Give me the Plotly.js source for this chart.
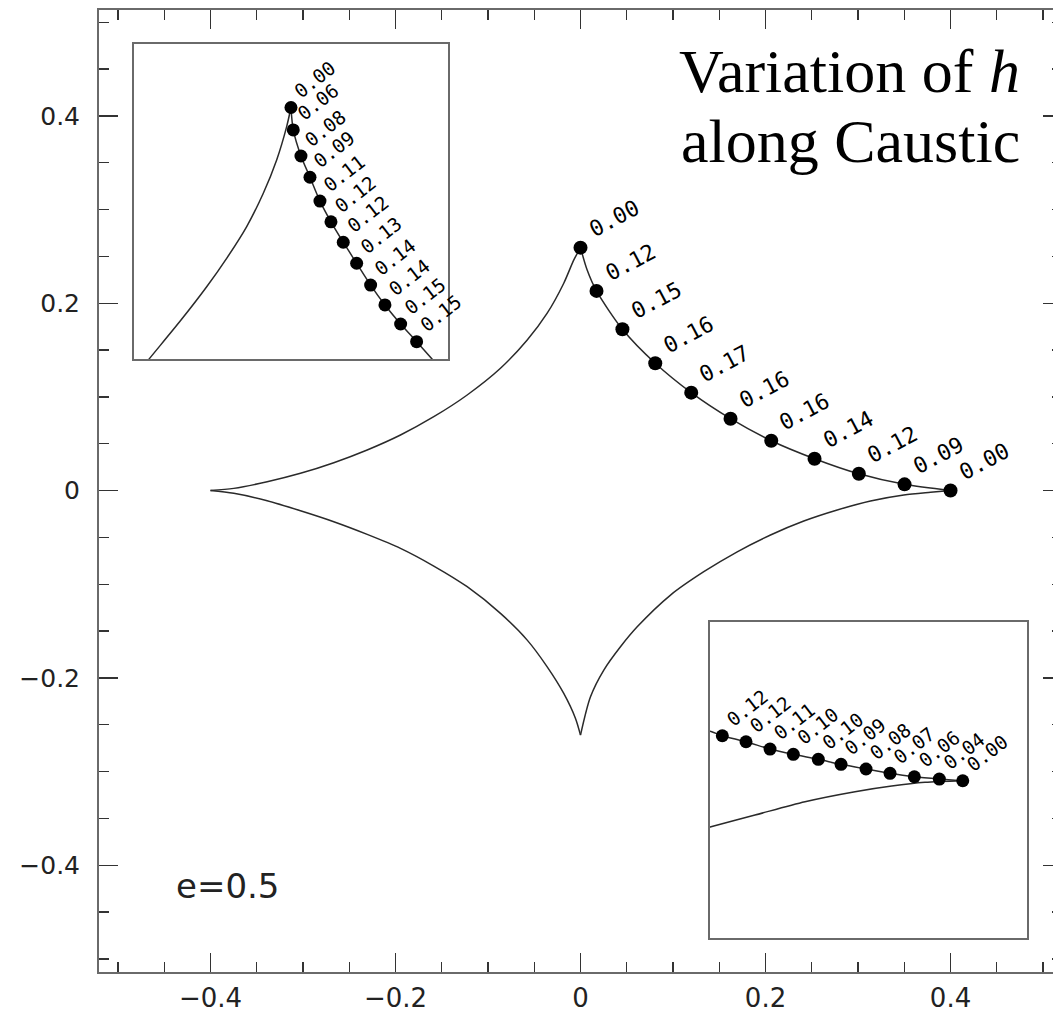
<!DOCTYPE html>
<html>
<head>
<meta charset="utf-8">
<script src="https://cdn.plot.ly/plotly-3.0.1.min.js"></script>
<style>html,body{margin:0;padding:0;overflow:hidden;background:#fff;}</style>
</head>
<body>
<div id="chart"></div>
<script>
// ---------- main caustic branches ----------
const ulX = [-0.400, -0.3748, -0.3387, -0.3027, -0.2667, -0.2306, -0.1946, -0.1586, -0.1225, -0.0865, -0.0576, -0.0360, -0.0181, -0.0072, 0.000];
const ulY = [0.000, 0.0023, 0.0094, 0.0184, 0.0297, 0.0433, 0.0593, 0.0788, 0.1020, 0.1305, 0.1607, 0.1893, 0.2213, 0.2462, 0.2593];
const llX = [-0.400, -0.3748, -0.3387, -0.3027, -0.2667, -0.2306, -0.1946, -0.1586, -0.1225, -0.0865, -0.0576, -0.0360, -0.0181, -0.0054, 0.000];
const llY = [0.000, -0.0030, -0.0109, -0.0216, -0.0333, -0.0468, -0.0617, -0.0806, -0.1027, -0.1312, -0.1597, -0.1882, -0.2166, -0.2433, -0.2611];
const lrX = [0.000, 0.0108, 0.0252, 0.0432, 0.0613, 0.0973, 0.1333, 0.1694, 0.2054, 0.2414, 0.2775, 0.3135, 0.3495, 0.3784, 0.400];
const lrY = [-0.2611, -0.2202, -0.1917, -0.1668, -0.1455, -0.1116, -0.0867, -0.0654, -0.0475, -0.0326, -0.0208, -0.0112, -0.0048, -0.0019, 0.000];
const urX = [0.000, 0.0070, 0.0173, 0.0453, 0.0808, 0.1197, 0.1622, 0.2062, 0.2530, 0.3009, 0.3503, 0.400];
const urY = [0.2593, 0.2360, 0.2131, 0.1722, 0.1359, 0.1045, 0.0767, 0.0532, 0.0340, 0.0179, 0.0066, 0.000];

// ---------- marked points on main caustic with h values ----------
const ptX = [0.000, 0.0173, 0.0453, 0.0808, 0.1197, 0.1622, 0.2062, 0.2530, 0.3009, 0.3503, 0.400];
const ptY = [0.2593, 0.2131, 0.1722, 0.1359, 0.1045, 0.0767, 0.0532, 0.0340, 0.0179, 0.0066, 0.000];
const ptH = [0.00, 0.12, 0.15, 0.16, 0.17, 0.16, 0.16, 0.14, 0.12, 0.09, 0.00];

// ---------- inset 1 (top cusp) ----------
const in1LeftX = [0.000, -0.00154, -0.00511, -0.00989, -0.01582, -0.02268, -0.03018, -0.03929, -0.05036, -0.05357];
const in1LeftY = [0.2583, 0.2515, 0.2396, 0.2277, 0.2158, 0.2049, 0.1942, 0.1824, 0.1689, 0.1649];
const in1RightX = [0.000, 0.00082, 0.00357, 0.00679, 0.01036, 0.01429, 0.01868, 0.02346, 0.02846, 0.03357, 0.03918, 0.04489, 0.0504, 0.0530];
const in1RightY = [0.2583, 0.2503, 0.2410, 0.2334, 0.2249, 0.2175, 0.2102, 0.2027, 0.1949, 0.1878, 0.1810, 0.1747, 0.1685, 0.1655];
const in1PtX = [0.000, 0.00082, 0.00357, 0.00679, 0.01036, 0.01429, 0.01868, 0.02346, 0.02846, 0.03357, 0.03918, 0.04489];
const in1PtY = [0.2583, 0.2503, 0.2410, 0.2334, 0.2249, 0.2175, 0.2102, 0.2027, 0.1949, 0.1878, 0.1810, 0.1747];
const in1H = [0.00, 0.06, 0.08, 0.09, 0.11, 0.12, 0.12, 0.13, 0.14, 0.14, 0.15, 0.15];

// ---------- inset 2 (right cusp) ----------
const in2UpX = [0.2900, 0.29542, 0.29983, 0.30971, 0.31971, 0.32942, 0.33983, 0.34929, 0.35971, 0.36971, 0.37983, 0.39025, 0.400];
const in2UpY = [0.0218, 0.02042, 0.01875, 0.01625, 0.01321, 0.01100, 0.00892, 0.00683, 0.00488, 0.00308, 0.00167, 0.00071, 0.000];
const in2LowX = [0.2900, 0.29512, 0.31346, 0.33429, 0.35512, 0.37042, 0.38429, 0.400];
const in2LowY = [-0.0207, -0.01917, -0.01429, -0.00875, -0.00458, -0.00221, -0.00067, 0.000];
const in2PtX = [0.29983, 0.30971, 0.31971, 0.32942, 0.33983, 0.34929, 0.35971, 0.36971, 0.37983, 0.39025, 0.400];
const in2PtY = [0.01875, 0.01625, 0.01321, 0.01100, 0.00892, 0.00683, 0.00488, 0.00308, 0.00167, 0.00071, 0.000];
const in2H = [0.12, 0.12, 0.11, 0.10, 0.10, 0.09, 0.08, 0.07, 0.06, 0.04, 0.00];

// ---------- styling ----------
const LINE = {color: '#2a2a2a', width: 1.5, shape: 'spline', smoothing: 0.8};
const FRAME = '#6a6a6a';

function branch(x, y, xa, ya) {
  return {x: x, y: y, xaxis: xa, yaxis: ya, mode: 'lines', line: LINE, hoverinfo: 'skip', showlegend: false};
}
function dots(x, y, xa, ya, size) {
  return {x: x, y: y, xaxis: xa, yaxis: ya, mode: 'markers', marker: {color: '#000', size: size}, hoverinfo: 'skip', showlegend: false};
}

const traces = [
  branch(ulX, ulY, 'x', 'y'), branch(llX, llY, 'x', 'y'),
  branch(lrX, lrY, 'x', 'y'), branch(urX, urY, 'x', 'y'),
  dots(ptX, ptY, 'x', 'y', 14),
  branch(in1LeftX, in1LeftY, 'x2', 'y2'), branch(in1RightX, in1RightY, 'x2', 'y2'),
  dots(in1PtX, in1PtY, 'x2', 'y2', 13),
  branch(in2UpX, in2UpY, 'x3', 'y3'), branch(in2LowX, in2LowY, 'x3', 'y3'),
  dots(in2PtX, in2PtY, 'x3', 'y3', 13)
];

const annotations = [];
function labels(xs, ys, hs, xr, yr, size, angle, dx, dy) {
  for (let i = 0; i < xs.length; i++) {
    annotations.push({
      x: xs[i], y: ys[i], xref: xr, yref: yr, text: hs[i].toFixed(2),
      showarrow: false, textangle: angle, xanchor: 'left', yanchor: 'bottom',
      xshift: dx, yshift: dy, borderpad: 0,
      font: {family: 'DejaVu Sans Mono', size: size, color: '#000'}
    });
  }
}
labels(ptX, ptY, ptH, 'x', 'y', 22, -28, 3, 4);
labels(in1PtX, in1PtY, in1H, 'x2', 'y2', 19, -38, -2, 4);
labels(in2PtX, in2PtY, in2H, 'x3', 'y3', 19, -38, -2, 4);

annotations.push({xref: 'paper', yref: 'paper', x: 0.9585, y: 0.9366, xanchor: 'right', yanchor: 'middle',
  showarrow: false, text: 'Variation of <i>h</i>', font: {family: 'Liberation Serif', size: 62, color: '#000'}});
annotations.push({xref: 'paper', yref: 'paper', x: 0.9585, y: 0.8638, xanchor: 'right', yanchor: 'middle',
  showarrow: false, text: 'along Caustic', font: {family: 'Liberation Serif', size: 62, color: '#000'}});
annotations.push({xref: 'paper', yref: 'paper', x: 0.0779, y: 0.0894, xanchor: 'left', yanchor: 'middle',
  showarrow: false, text: 'e=0.5', font: {family: 'DejaVu Sans', size: 34, color: '#222'}});

const mainAxis = {
  showgrid: false, zeroline: false, showline: true, mirror: 'ticks', linecolor: FRAME, linewidth: 2,
  ticks: 'inside', ticklen: 19, tickwidth: 1.3, tickcolor: '#333', tick0: 0, dtick: 0.2,
  minor: {ticks: 'inside', ticklen: 10, tickwidth: 1.3, tickcolor: '#333', dtick: 0.05, tick0: 0, showgrid: false},
  tickfont: {family: 'DejaVu Sans', size: 25, color: '#222'}
};
const insetAxis = {showgrid: false, zeroline: false, showline: true, mirror: true, linecolor: FRAME, linewidth: 2,
  ticks: '', showticklabels: false};

const layout = {
  width: 1065, height: 1017,
  margin: {l: 99, r: 3, t: 10, b: 45},
  paper_bgcolor: '#fff', plot_bgcolor: '#fff',
  showlegend: false,
  xaxis: Object.assign({}, mainAxis, {range: [-0.5205, 0.5205], ticklabelstandoff: 2,
    tickfont: {family: 'DejaVu Sans', size: 26, color: '#222'}}),
  yaxis: Object.assign({}, mainAxis, {range: [-0.514, 0.513], ticklabelstandoff: 12}),
  xaxis2: Object.assign({}, insetAxis, {domain: [0.0363, 0.3624], anchor: 'y2', range: [-0.0561, 0.0561]}),
  yaxis2: Object.assign({}, insetAxis, {domain: [0.6372, 0.9647], anchor: 'x2', range: [0.1685, 0.281]}),
  xaxis3: Object.assign({}, insetAxis, {domain: [0.6345, 0.9637], anchor: 'y3', range: [0.29471, 0.42679]}),
  yaxis3: Object.assign({}, insetAxis, {domain: [0.0353, 0.3638], anchor: 'x3', range: [-0.06554, 0.06613]}),
  annotations: annotations
};

Plotly.newPlot('chart', traces, layout, {displayModeBar: false, staticPlot: true});
</script>
</body>
</html>
